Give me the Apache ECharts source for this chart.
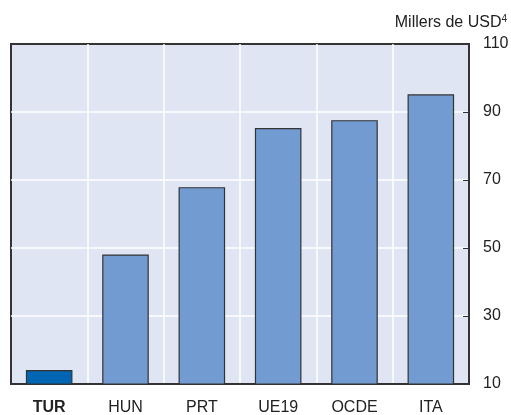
<!DOCTYPE html>
<html>
<head>
<meta charset="utf-8">
<script src="https://cdn.jsdelivr.net/npm/echarts@6/dist/echarts.min.js"></script>
<style>
  html, body { margin: 0; padding: 0; background: #fff; }
  #chart { width: 511px; height: 415px; }
</style>
</head>
<body>
<div id="chart"></div>
<script>
// data
const categories = ['TUR', 'HUN', 'PRT', 'UE19', 'OCDE', 'ITA']
const values = [14.1, 48.1, 67.9, 85.3, 87.6, 95.2]
const highlight = 'TUR'

const FONT = '"Liberation Sans Narrow", "Liberation Sans", sans-serif'

const chart = echarts.init(document.getElementById('chart'))

chart.setOption({
  animation: false,
  textStyle: { fontFamily: FONT },
  title: {
    text: 'Millers de USD{s|4}',
    right: 4,
    top: 14,
    padding: 0,
    textStyle: {
      fontSize: 16,
      fontWeight: 'normal',
      color: '#222',
      fontFamily: FONT,
      rich: {
        s: { fontSize: 10, color: '#222', fontFamily: FONT, verticalAlign: 'top', padding: [0, 0, 8, 0] },
      },
    },
  },
  grid: {
    left: 11,
    right: 42,
    top: 44,
    bottom: 31,
    outerBoundsMode: 'none',
    show: true,
    backgroundColor: '#dfe5f3',
    borderColor: '#333',
    borderWidth: 2,
  },
  xAxis: {
    type: 'category',
    data: categories,
    axisLine: { lineStyle: { color: '#333', width: 2 } },
    axisTick: { inside: true, length: 6, lineStyle: { color: '#333', width: 1 } },
    splitLine: { show: true, showMinLine: false, showMaxLine: false, lineStyle: { color: '#fff', width: 1.5 } },
    axisLabel: {
      fontSize: 16,
      color: '#222',
      margin: 16,
      formatter: (v) => (v === highlight ? '{b|' + v + '}' : v),
      rich: { b: { fontWeight: 'bold', fontSize: 16, fontFamily: FONT, color: '#222' } },
    },
  },
  yAxis: {
    type: 'value',
    position: 'right',
    min: 10,
    max: 110,
    interval: 20,
    axisLine: { show: true, lineStyle: { color: '#333', width: 2 } },
    axisTick: { show: true, inside: true, length: 6, lineStyle: { color: '#333' } },
    splitLine: { show: true, showMinLine: false, showMaxLine: false, lineStyle: { color: '#fff', width: 1.5 } },
    axisLabel: { fontSize: 16, color: '#222', margin: 14 },
  },
  series: [
    {
      type: 'bar',
      barWidth: '61%',
      data: values.map((v, i) => ({
        value: v,
        itemStyle: { color: categories[i] === highlight ? '#0066b3' : '#729bd2' },
      })),
      itemStyle: { borderColor: '#333', borderWidth: 1.2 },
    },
  ],
})
</script>
</body>
</html>
